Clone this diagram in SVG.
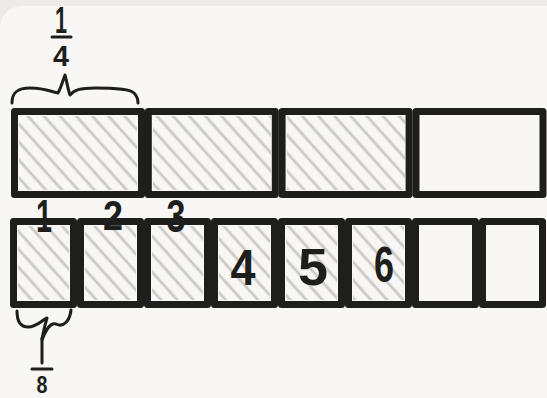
<svg xmlns="http://www.w3.org/2000/svg" width="547" height="398" viewBox="0 0 547 398">
  <defs>
    <pattern id="hatch" width="12" height="10" patternUnits="userSpaceOnUse" patternTransform="rotate(-42)">
      <line x1="3" y1="0" x2="3" y2="10" stroke="#c9c9c8" stroke-width="2.8"/>
    </pattern>
    <style>
      .box { fill: #f8f7f5; stroke: #1e1f1c; stroke-width: 7; stroke-linejoin: round; }
      .hatch { fill: url(#hatch); stroke: none; }
      .ink { fill: none; stroke: #1e1f1c; stroke-width: 3; stroke-linecap: round; stroke-linejoin: round; }
      .num { font-family: "Liberation Sans", "DejaVu Sans", sans-serif; font-weight: bold; fill: #1e1f1c; text-anchor: middle; }
    </style>
  </defs>
  <rect x="0" y="0" width="547" height="398" fill="#ecebe8"/>
  <rect x="0" y="6" width="580" height="420" rx="22" fill="#f8f7f5"/>

  <g id="top-row">
    <g id="quarter-1"><rect class="box" x="14.5" y="111.5" width="127" height="83"/><rect class="hatch" x="19" y="116" width="118" height="74"/></g>
    <g id="quarter-2"><rect class="box" x="148.3" y="111.5" width="127" height="83"/><rect class="hatch" x="153" y="116" width="118" height="74"/></g>
    <g id="quarter-3"><rect class="box" x="282.1" y="111.5" width="127" height="83"/><rect class="hatch" x="287" y="116" width="118" height="74"/></g>
    <g id="quarter-4"><rect class="box" x="416" y="111.5" width="127" height="83"/></g>
  </g>

  <g id="bottom-row">
    <g id="eighth-1"><rect class="box" x="13.5" y="221.5" width="60" height="83"/><rect class="hatch" x="18" y="226" width="51" height="74"/></g>
    <g id="eighth-2"><rect class="box" x="80.5" y="221.5" width="60" height="83"/><rect class="hatch" x="85" y="226" width="51" height="74"/></g>
    <g id="eighth-3"><rect class="box" x="147.5" y="221.5" width="60" height="83"/><rect class="hatch" x="152" y="226" width="51" height="74"/></g>
    <g id="eighth-4"><rect class="box" x="214.5" y="221.5" width="60" height="83"/><rect class="hatch" x="219" y="226" width="51" height="74"/></g>
    <g id="eighth-5"><rect class="box" x="281.5" y="221.5" width="60" height="83"/><rect class="hatch" x="286" y="226" width="51" height="74"/></g>
    <g id="eighth-6"><rect class="box" x="348.5" y="221.5" width="60" height="83"/><rect class="hatch" x="353" y="226" width="51" height="74"/></g>
    <g id="eighth-7"><rect class="box" x="415.5" y="221.5" width="60" height="83"/></g>
    <g id="eighth-8"><rect class="box" x="482.5" y="221.5" width="60" height="83"/></g>
  </g>

  <g id="braces">
    <path class="ink" d="M12,103 C12,92 18,88 30,88 C45,88 52,92 58,93 C61,88 63,80 65,75 C67,82 68,90 70,95 C74,90 80,88 95,88 C115,88 130,89 134,93 C137,96 138,100 138,103"/>
    <line class="ink" x1="52" y1="37" x2="71" y2="37"/>
    <path class="ink" d="M17,311 C17,320 20,327 28,327 C37,327 42,320 47,318 C45,325 43,332 42,340 C46,330 50,322 56,324 C64,328 70,320 71,310"/>
    <line class="ink" x1="42" y1="338" x2="42" y2="363"/>
    <line class="ink" x1="32" y1="369" x2="52" y2="369"/>
  </g>

  <g id="labels">
    <text class="num" x="61" y="33" font-size="36" textLength="12" lengthAdjust="spacingAndGlyphs">1</text>
    <text class="num" x="61" y="66" font-size="30" textLength="16" lengthAdjust="spacingAndGlyphs">4</text>
    <text class="num" x="42" y="393" font-size="23" textLength="11" lengthAdjust="spacingAndGlyphs">8</text>
    <text class="num" x="44" y="232" font-size="46" textLength="16" lengthAdjust="spacingAndGlyphs">1</text>
    <text class="num" x="113" y="230" font-size="43" textLength="20" lengthAdjust="spacingAndGlyphs">2</text>
    <text class="num" x="176" y="232" font-size="46" textLength="19" lengthAdjust="spacingAndGlyphs">3</text>
    <text class="num" x="243" y="285" font-size="50" textLength="25" lengthAdjust="spacingAndGlyphs">4</text>
    <text class="num" x="313" y="285" font-size="52" textLength="30" lengthAdjust="spacingAndGlyphs">5</text>
    <text class="num" x="384" y="282" font-size="50" textLength="20" lengthAdjust="spacingAndGlyphs">6</text>
  </g>
</svg>
